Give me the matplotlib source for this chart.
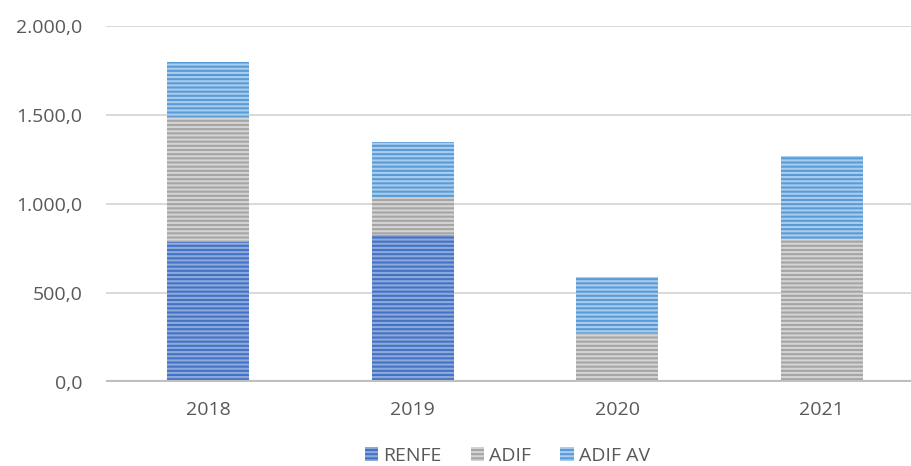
import matplotlib.pyplot as plt
import numpy as np

years = ["2018", "2019", "2020", "2021"]
renfe = [788, 826, 0, 0]
adif = [702, 206, 274, 802]
adif_av = [308, 315, 314, 469]

series = ["RENFE", "ADIF", "ADIF AV"]
base_colors = ["#4472C4", "#A5A5A5", "#5B9BD5"]
stripe_colors = ["#8EAADB", "#D4D4D4", "#A9CDEE"]

plt.rcParams["font.family"] = ["Open Sans", "DejaVu Sans"]
plt.rcParams["hatch.linewidth"] = 1.5

fig = plt.figure(figsize=(9.11, 4.66), dpi=100)
ax = fig.add_axes([106 / 911, 84 / 466, 818 / 911, 356 / 466])

x = np.arange(len(years))
bottom = np.zeros(len(years))
for vals, name, c, sc in zip([renfe, adif, adif_av], series, base_colors, stripe_colors):
    ax.bar(x, vals, width=0.4, bottom=bottom, color=c, edgecolor=sc,
           linewidth=0, hatch="----", label=name, zorder=3)
    bottom += np.array(vals)

ax.set_xlim(-0.5, 3.5)
ax.set_ylim(0, 2000)
ax.set_yticks([0, 500, 1000, 1500, 2000])
ax.set_yticklabels(["0,0", "500,0", "1.000,0", "1.500,0", "2.000,0"])
ax.set_xticks(x)
ax.set_xticklabels(years)

ax.grid(axis="y", color="#D9D9D9", linewidth=1.4, zorder=0)
ax.axhline(0, color="#BFBFBF", linewidth=3, zorder=4)
for s in ax.spines.values():
    s.set_visible(False)
ax.tick_params(axis="both", length=0, labelsize=14, colors="#595959")
ax.tick_params(axis="y", pad=17)
ax.tick_params(axis="x", pad=14)

leg = fig.legend(loc="lower center", bbox_to_anchor=(0.557, -0.035), ncol=3,
                 frameon=False, fontsize=14, handlelength=0.7, handleheight=0.7,
                 handletextpad=0.25, columnspacing=1.5)
for t in leg.get_texts():
    t.set_color("#595959")

fig.savefig("out.png", dpi=100)
